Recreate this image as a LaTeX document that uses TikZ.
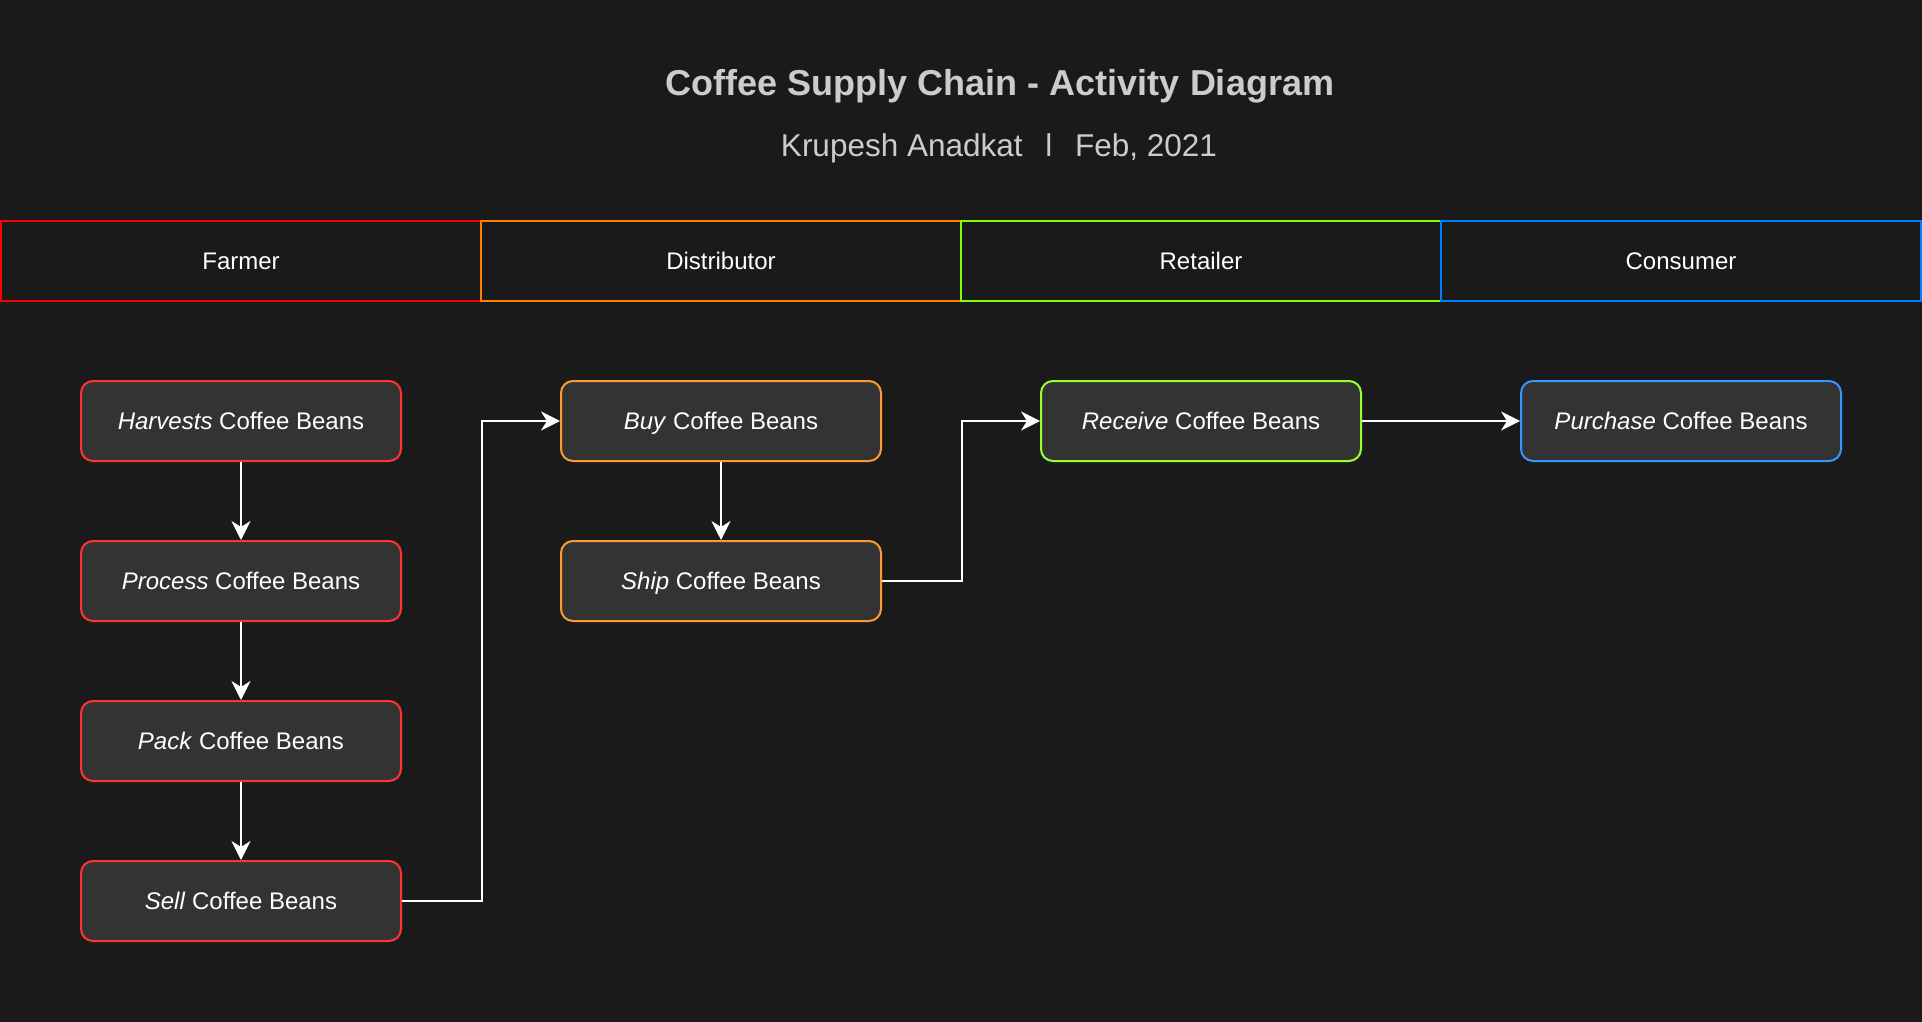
\documentclass[tikz,border=0pt]{standalone}
\usepackage{fontspec}
\setmainfont{Liberation Sans}
\usetikzlibrary{arrows.meta}
\definecolor{bgc}{HTML}{1A1A1A}
\definecolor{boxfill}{HTML}{333333}
\definecolor{titlec}{HTML}{CCCCCC}
\definecolor{laneR}{HTML}{FF0000}
\definecolor{laneO}{HTML}{FF8000}
\definecolor{laneG}{HTML}{80FF00}
\definecolor{laneB}{HTML}{007FFF}
\definecolor{actR}{HTML}{FF3333}
\definecolor{actO}{HTML}{FF9933}
\definecolor{actG}{HTML}{99FF33}
\definecolor{actB}{HTML}{3399FF}
\tikzset{
  lanebox/.style={draw=#1, line width=2pt, fill=bgc, minimum width=480pt, minimum height=80pt,
    inner sep=0pt, text=white, font=\fontsize{24}{28}\selectfont, text height=20pt, text depth=3pt},
  actbox/.style={draw=#1, line width=2pt, fill=boxfill, rounded corners=12pt, minimum width=320pt,
    minimum height=80pt, inner sep=0pt, text=white, font=\fontsize{24}{28}\selectfont,
    text height=20pt, text depth=3pt},
  flow/.style={draw=white, line width=2pt, -{Stealth[length=19pt,width=19pt,inset=6pt]}},
}
\begin{document}
\begin{tikzpicture}[x=1pt,y=-1pt]
\fill[bgc] (0,0) rectangle (1922,1022);
\useasboundingbox (0,0) rectangle (1922,1022);
\node[text=titlec, font=\bfseries\fontsize{36}{40}\selectfont] (title) at (1000,86) {Coffee Supply Chain - Activity Diagram};
\node[text=titlec, font=\fontsize{31.5}{36}\selectfont] (subtitle) at (999,148) {Krupesh Anadkat \ \,l\, \ Feb, 2021};
\node[lanebox=laneR] (farmer) at (241,261) {Farmer};
\node[lanebox=laneO] (distributor) at (721,261) {Distributor};
\node[lanebox=laneG] (retailer) at (1201,261) {Retailer};
\node[lanebox=laneB] (consumer) at (1681,261) {Consumer};
\node[actbox=actR] (harvest) at (241,421) {\textit{Harvests} Coffee Beans};
\node[actbox=actR] (process) at (241,581) {\textit{Process} Coffee Beans};
\node[actbox=actR] (pack) at (241,741) {\textit{Pack} Coffee Beans};
\node[actbox=actR] (sell) at (241,901) {\textit{Sell} Coffee Beans};
\node[actbox=actO] (buy) at (721,421) {\textit{Buy} Coffee Beans};
\node[actbox=actO] (ship) at (721,581) {\textit{Ship} Coffee Beans};
\node[actbox=actG] (receive) at (1201,421) {\textit{Receive} Coffee Beans};
\node[actbox=actB] (purchase) at (1681,421) {\textit{Purchase} Coffee Beans};
\draw[flow] (harvest) -- (process);
\draw[flow] (process) -- (pack);
\draw[flow] (pack) -- (sell);
\draw[flow] (sell.east) -- ++(80,0) |- (buy.west);
\draw[flow] (buy) -- (ship);
\draw[flow] (ship.east) -- ++(80,0) |- (receive.west);
\draw[flow] (receive) -- (purchase);
\end{tikzpicture}
\end{document}
